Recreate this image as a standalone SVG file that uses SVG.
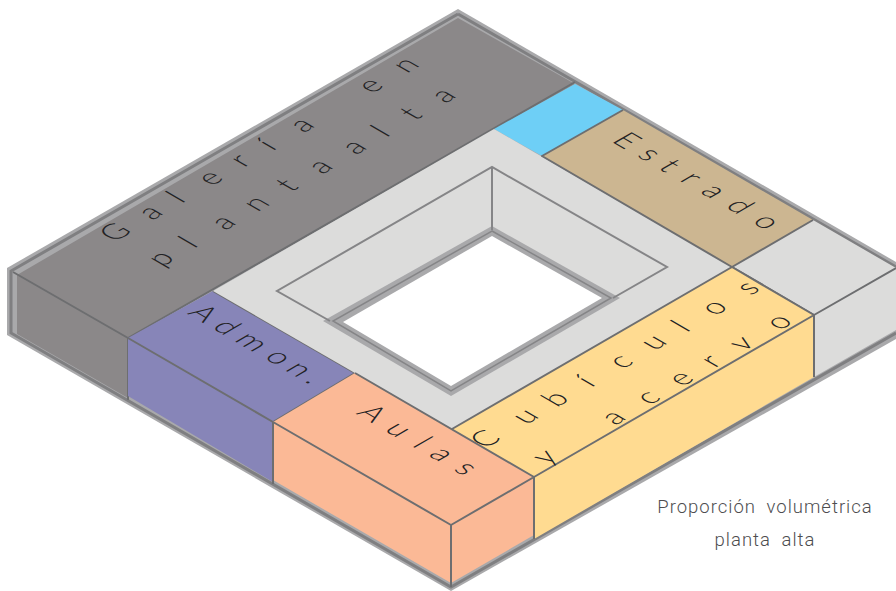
<svg xmlns="http://www.w3.org/2000/svg" width="896" height="591" viewBox="0 0 896 591">
<style>
.l{fill:none;stroke:#6d6e70;stroke-width:2;stroke-linejoin:round}
.t{font-family:Lato,"Liberation Sans",sans-serif;font-weight:300;font-size:30px;fill:#222224;text-anchor:middle}
.c{font-family:Roboto,"Liberation Sans",sans-serif;font-weight:300;font-size:18.5px;fill:#4d4d4f;letter-spacing:1px;word-spacing:5px;text-anchor:middle}
</style>
<rect width="896" height="591" fill="#fff"/>
<g id="base">
<path d="M458 9L896 262V339L451 591L7 335V268Z" fill="#a9a9ab"/>
<path d="M458 14L896 267M458 14L11 271V333L451 587L896 333" fill="none" stroke="#7f7f81" stroke-width="3"/>
</g>
<g id="galeria">
<path d="M458 18L575 84L128 338V398L17 334V275Z" fill="#8b8889"/>
<path d="M13 272L128 338V400M128 338L575 82" class="l"/>
<text class="t" transform="matrix(.866 -.5 .866 .5 158.500 217)" x="-40 0 30 69 104 135 175 215 254 295">Galería en</text>
<text class="t" transform="matrix(.866 -.5 .866 .5 231.500 227)" x="-72 -40 0 38 74 112 130 151 182 217 254">planta alta</text>
</g>
<g id="admon">
<path d="M128 338L213 291L355 373L273 422V482L128 396Z" fill="#8785b8"/>
<path d="M128 338L273 422L355 373M213 291L355 373M273 422V484" class="l"/>
<text class="t" transform="matrix(.866 .5 -.866 .5 218.500 332)" x="-27 0 29 60 84 102">Admon.</text>
</g>
<g id="estrado">
<path d="M623 110L813 220L732 267L542 156Z" fill="#ccb691"/>
<text class="t" transform="matrix(.866 .5 -.866 .5 641.500 159)" x="-27 0 23 48 74 104 135">Estrado</text>
</g>
<g id="pasillo">
<path d="M575 84L623 110L542 156L494 129Z" fill="#6ecff6"/>
<path d="M494 129L732 267L452 429L213 291Z" fill="#dcdcdb"/>
<path d="M732 267L813 220L896 268V330L814 377V315Z" fill="#dcdcdb"/>
<path d="M623 110L542 156L732 267L813 220M732 267L814 315L896 268M814 315V377" class="l"/>
<path d="M492 226L620 298L451 396L323 321Z" fill="#a9a9ab"/>
<path d="M492 236L602 298L451 386L343 322Z" fill="#fff"/>
<path d="M492 231L611 298L451 391L333 321Z" fill="none" stroke="#858587" stroke-width="1.500"/>
<path d="M330 321L277 291L492 167L667 267L613 298M492 167V230" fill="none" stroke="#858587" stroke-width="2"/>
</g>
<g id="cubiculos">
<path d="M452 429L732 267L814 315V377L534 539V477Z" fill="#ffdb91"/>
<path d="M452 429L732 267L814 315L534 477M814 315V377" class="l"/>
<text class="t" transform="matrix(.866 -.5 .866 .5 533.500 421)" x="-46 0 35 70 110 148 180 218 257">Cubículos</text>
<text class="t" transform="matrix(.866 -.5 .866 .5 621.500 422)" x="-79 -40 0 40 78 113 148 191">y acervo</text>
</g>
<g id="aulas">
<path d="M273 422L355 373L534 477V535L451 583L273 480Z" fill="#fbb996"/>
<path d="M273 422L451 525L534 477L355 373M451 525V587M534 477V539M273 422V484" class="l"/>
<text class="t" transform="matrix(.866 .5 -.866 .5 390.500 434)" x="-31 0 27 50 78">Aulas</text>
</g>
<g id="leyenda">
<text class="c" x="765" y="513">Proporción volumétrica</text>
<text class="c" x="765" y="546">planta alta</text>
</g>
</svg>
